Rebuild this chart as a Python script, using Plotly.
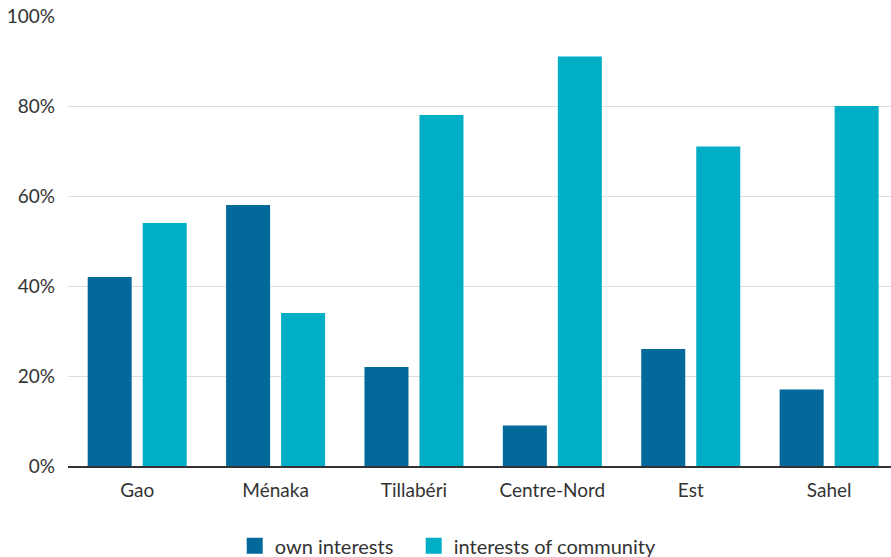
import plotly.graph_objects as go

regions = ["Gao", "Ménaka", "Tillabéri", "Centre-Nord", "Est", "Sahel"]
own_interests = [42, 58, 22, 9, 26, 17]
community_interests = [54, 34, 78, 91, 71, 80]
y_ticks = [0, 20, 40, 60, 80, 100]
y_tick_labels = ["0%", "20%", "40%", "60%", "80%", "100%"]
series_names = ["own interests", "interests of community"]
series_colors = ["#03699b", "#00aec6"]

FONT = "Source Sans Pro, Lato, Noto Sans, sans-serif"

fig = go.Figure()
for name, vals, col in zip(series_names, [own_interests, community_interests], series_colors):
    fig.add_trace(go.Bar(x=regions, y=vals, name=name, marker_color=col,
                         marker_line_width=0, showlegend=False, legendgroup=name))
for i, (name, col) in enumerate(zip(series_names, series_colors)):
    label = name + ("\u00a0\u00a0\u00a0" if i == 0 else "")
    fig.add_trace(go.Scatter(x=[None], y=[None], mode="markers", name=label,
                             legendgroup=name,
                             marker=dict(symbol="square", size=16, color=col)))

fig.update_layout(
    width=891, height=557,
    margin=dict(l=68, r=0, t=16, b=91, autoexpand=False),
    paper_bgcolor="white", plot_bgcolor="white",
    barmode="group", bargap=0.205, bargroupgap=0.2,
    font=dict(family=FONT, size=19, color="#333333"),
    showlegend=True,
    legend=dict(orientation="h", x=0.462, xanchor="center", yref="container",
                y=0.02, yanchor="middle",
                font=dict(size=20, color="#333333"), itemwidth=30, traceorder="normal"),
    xaxis=dict(range=[-0.5, 5.447], showgrid=False, showline=True, linecolor="#333333",
               linewidth=2, ticks="", ticklabelstandoff=6,
               tickfont=dict(size=19, color="#333333")),
    yaxis=dict(range=[0, 100], tickvals=y_ticks, ticktext=y_tick_labels,
               showgrid=True, gridcolor="#dddddd", gridwidth=1, zeroline=False,
               showline=False, ticks="", ticklabelstandoff=12,
               tickfont=dict(size=19, color="#333333")),
)

fig.write_html("out.html")
